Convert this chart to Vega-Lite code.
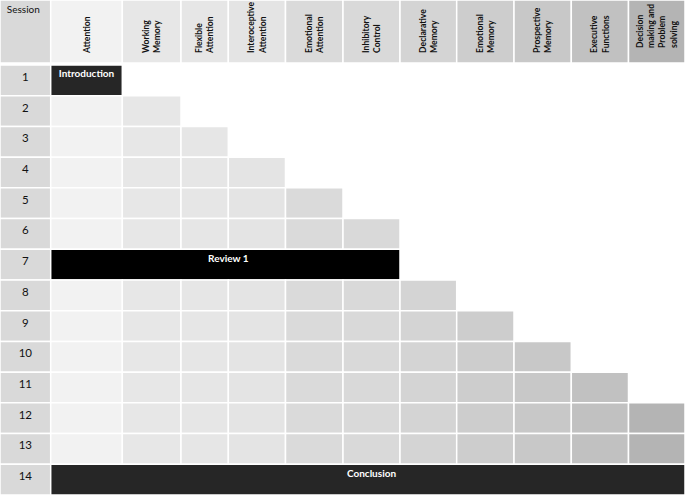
{
  "$schema": "https://vega.github.io/schema/vega-lite/v6.json",
  "padding": 0,
  "spacing": 2,
  "background": "white",
  "config": {"view": {"stroke": null}, "font": "Lato"},
  "datasets": {
    "header": [
      {"c": "S", "i0": 0, "i1": 1, "label": "Session"},
      {"c": "A", "i0": 1, "i1": 2, "label": "Attention"},
      {"c": "WM", "i0": 2, "i1": 3, "label": "Working\nMemory"},
      {"c": "FA", "i0": 3, "i1": 4, "label": "Flexible\nAttention"},
      {"c": "IA", "i0": 4, "i1": 5, "label": "Interoceptive\nAttention"},
      {"c": "EA", "i0": 5, "i1": 6, "label": "Emotional\nAttention"},
      {"c": "IC", "i0": 6, "i1": 7, "label": "Inhibitory\nControl"},
      {"c": "DM", "i0": 7, "i1": 8, "label": "Declarative\nMemory"},
      {"c": "EM", "i0": 8, "i1": 9, "label": "Emotional\nMemory"},
      {"c": "PM", "i0": 9, "i1": 10, "label": "Prospective\nMemory"},
      {"c": "EF", "i0": 10, "i1": 11, "label": "Executive\nFunctions"},
      {"c": "DP", "i0": 11, "i1": 12, "label": "Decision\nmaking and\nProblem\nsolving"}
    ],
    "cells": [
      {"s": 1, "c": "S", "i0": 0, "i1": 1}, {"s": 2, "c": "S", "i0": 0, "i1": 1}, {"s": 3, "c": "S", "i0": 0, "i1": 1}, {"s": 4, "c": "S", "i0": 0, "i1": 1}, {"s": 5, "c": "S", "i0": 0, "i1": 1}, {"s": 6, "c": "S", "i0": 0, "i1": 1}, {"s": 7, "c": "S", "i0": 0, "i1": 1}, {"s": 8, "c": "S", "i0": 0, "i1": 1}, {"s": 9, "c": "S", "i0": 0, "i1": 1}, {"s": 10, "c": "S", "i0": 0, "i1": 1}, {"s": 11, "c": "S", "i0": 0, "i1": 1}, {"s": 12, "c": "S", "i0": 0, "i1": 1}, {"s": 13, "c": "S", "i0": 0, "i1": 1}, {"s": 14, "c": "S", "i0": 0, "i1": 1},
      {"s": 1, "c": "Intro", "i0": 1, "i1": 2, "label": "Introduction"},
      {"s": 2, "c": "A", "i0": 1, "i1": 2}, {"s": 2, "c": "WM", "i0": 2, "i1": 3},
      {"s": 3, "c": "A", "i0": 1, "i1": 2}, {"s": 3, "c": "WM", "i0": 2, "i1": 3}, {"s": 3, "c": "FA", "i0": 3, "i1": 4},
      {"s": 4, "c": "A", "i0": 1, "i1": 2}, {"s": 4, "c": "WM", "i0": 2, "i1": 3}, {"s": 4, "c": "FA", "i0": 3, "i1": 4}, {"s": 4, "c": "IA", "i0": 4, "i1": 5},
      {"s": 5, "c": "A", "i0": 1, "i1": 2}, {"s": 5, "c": "WM", "i0": 2, "i1": 3}, {"s": 5, "c": "FA", "i0": 3, "i1": 4}, {"s": 5, "c": "IA", "i0": 4, "i1": 5}, {"s": 5, "c": "EA", "i0": 5, "i1": 6},
      {"s": 6, "c": "A", "i0": 1, "i1": 2}, {"s": 6, "c": "WM", "i0": 2, "i1": 3}, {"s": 6, "c": "FA", "i0": 3, "i1": 4}, {"s": 6, "c": "IA", "i0": 4, "i1": 5}, {"s": 6, "c": "EA", "i0": 5, "i1": 6}, {"s": 6, "c": "IC", "i0": 6, "i1": 7},
      {"s": 7, "c": "Rev", "i0": 1, "i1": 7, "label": "Review 1"},
      {"s": 8, "c": "A", "i0": 1, "i1": 2}, {"s": 8, "c": "WM", "i0": 2, "i1": 3}, {"s": 8, "c": "FA", "i0": 3, "i1": 4}, {"s": 8, "c": "IA", "i0": 4, "i1": 5}, {"s": 8, "c": "EA", "i0": 5, "i1": 6}, {"s": 8, "c": "IC", "i0": 6, "i1": 7}, {"s": 8, "c": "DM", "i0": 7, "i1": 8},
      {"s": 9, "c": "A", "i0": 1, "i1": 2}, {"s": 9, "c": "WM", "i0": 2, "i1": 3}, {"s": 9, "c": "FA", "i0": 3, "i1": 4}, {"s": 9, "c": "IA", "i0": 4, "i1": 5}, {"s": 9, "c": "EA", "i0": 5, "i1": 6}, {"s": 9, "c": "IC", "i0": 6, "i1": 7}, {"s": 9, "c": "DM", "i0": 7, "i1": 8}, {"s": 9, "c": "EM", "i0": 8, "i1": 9},
      {"s": 10, "c": "A", "i0": 1, "i1": 2}, {"s": 10, "c": "WM", "i0": 2, "i1": 3}, {"s": 10, "c": "FA", "i0": 3, "i1": 4}, {"s": 10, "c": "IA", "i0": 4, "i1": 5}, {"s": 10, "c": "EA", "i0": 5, "i1": 6}, {"s": 10, "c": "IC", "i0": 6, "i1": 7}, {"s": 10, "c": "DM", "i0": 7, "i1": 8}, {"s": 10, "c": "EM", "i0": 8, "i1": 9}, {"s": 10, "c": "PM", "i0": 9, "i1": 10},
      {"s": 11, "c": "A", "i0": 1, "i1": 2}, {"s": 11, "c": "WM", "i0": 2, "i1": 3}, {"s": 11, "c": "FA", "i0": 3, "i1": 4}, {"s": 11, "c": "IA", "i0": 4, "i1": 5}, {"s": 11, "c": "EA", "i0": 5, "i1": 6}, {"s": 11, "c": "IC", "i0": 6, "i1": 7}, {"s": 11, "c": "DM", "i0": 7, "i1": 8}, {"s": 11, "c": "EM", "i0": 8, "i1": 9}, {"s": 11, "c": "PM", "i0": 9, "i1": 10}, {"s": 11, "c": "EF", "i0": 10, "i1": 11},
      {"s": 12, "c": "A", "i0": 1, "i1": 2}, {"s": 12, "c": "WM", "i0": 2, "i1": 3}, {"s": 12, "c": "FA", "i0": 3, "i1": 4}, {"s": 12, "c": "IA", "i0": 4, "i1": 5}, {"s": 12, "c": "EA", "i0": 5, "i1": 6}, {"s": 12, "c": "IC", "i0": 6, "i1": 7}, {"s": 12, "c": "DM", "i0": 7, "i1": 8}, {"s": 12, "c": "EM", "i0": 8, "i1": 9}, {"s": 12, "c": "PM", "i0": 9, "i1": 10}, {"s": 12, "c": "EF", "i0": 10, "i1": 11}, {"s": 12, "c": "DP", "i0": 11, "i1": 12},
      {"s": 13, "c": "A", "i0": 1, "i1": 2}, {"s": 13, "c": "WM", "i0": 2, "i1": 3}, {"s": 13, "c": "FA", "i0": 3, "i1": 4}, {"s": 13, "c": "IA", "i0": 4, "i1": 5}, {"s": 13, "c": "EA", "i0": 5, "i1": 6}, {"s": 13, "c": "IC", "i0": 6, "i1": 7}, {"s": 13, "c": "DM", "i0": 7, "i1": 8}, {"s": 13, "c": "EM", "i0": 8, "i1": 9}, {"s": 13, "c": "PM", "i0": 9, "i1": 10}, {"s": 13, "c": "EF", "i0": 10, "i1": 11}, {"s": 13, "c": "DP", "i0": 11, "i1": 12},
      {"s": 14, "c": "Conc", "i0": 1, "i1": 12, "label": "Conclusion"}
    ]
  },
  "vconcat": [
    {
      "width": 685,
      "height": 63,
      "data": {"name": "header"},
      "layer": [
        {
          "mark": {"type": "rect", "stroke": "white", "strokeWidth": 1.5, "clip": true},
          "encoding": {
            "x": {"field": "i0", "type": "quantitative", "axis": null, "scale": {"domain": [0,1,2,3,4,5,6,7,8,9,10,11,12], "range": [0,50.7,122.3,181,228.3,285.5,343,400,456.7,514,571.3,628.5,685], "nice": false, "zero": false}},
            "x2": {"field": "i1"},
            "color": {"field": "c", "type": "nominal", "legend": null, "scale": {"domain": ["S","A","WM","FA","IA","EA","IC","DM","EM","PM","EF","DP","Intro","Rev","Conc"], "range": ["#d9d9d9","#f2f2f2","#e7e7e7","#e6e6e6","#e4e4e4","#dadada","#d9d9d9","#d4d4d4","#cdcdcd","#c8c8c8","#c1c1c1","#b4b4b4","#262626","#000000","#262626"]}}
          }
        },
        {
          "transform": [{"filter": "datum.c === 'S'"}, {"fold": ["i0", "i1"], "as": ["edge", "v"]}],
          "mark": {"type": "text", "fontSize": 10, "color": "#111111", "baseline": "middle", "align": "center", "dx": -2},
          "encoding": {
            "x": {"field": "v", "aggregate": "mean", "type": "quantitative", "axis": null, "scale": {"domain": [0,1,2,3,4,5,6,7,8,9,10,11,12], "range": [0,50.7,122.3,181,228.3,285.5,343,400,456.7,514,571.3,628.5,685], "nice": false, "zero": false}},
            "y": {"datum": "H", "type": "nominal", "axis": null, "bandPosition": 0.16, "scale": {"type": "band", "paddingInner": 0, "paddingOuter": 0}},
            "text": {"field": "label", "type": "nominal"}
          }
        },
        {
          "transform": [{"filter": "datum.c === 'A'"}, {"fold": ["i0", "i1"], "as": ["edge", "v"]}],
          "mark": {"type": "text", "fontSize": 8.6, "fontWeight": "bold", "color": "#111111", "angle": 270, "align": "left", "baseline": "middle", "lineBreak": "\n", "lineHeight": 11.5},
          "encoding": {
            "x": {"field": "v", "aggregate": "mean", "type": "quantitative", "axis": null, "scale": {"domain": [0,1,2,3,4,5,6,7,8,9,10,11,12], "range": [0,50.7,122.3,181,228.3,285.5,343,400,456.7,514,571.3,628.5,685], "nice": false, "zero": false}},
            "y": {"datum": "H", "type": "nominal", "axis": null, "bandPosition": 0.84, "scale": {"type": "band", "paddingInner": 0, "paddingOuter": 0}},
            "text": {"field": "label", "type": "nominal"}
          }
        },
        {
          "transform": [{"filter": "datum.c !== 'S' && datum.c !== 'A' && datum.c !== 'DP'"}, {"fold": ["i0", "i1"], "as": ["edge", "v"]}],
          "mark": {"type": "text", "fontSize": 8.6, "fontWeight": "bold", "color": "#111111", "angle": 270, "align": "left", "baseline": "middle", "lineBreak": "\n", "lineHeight": 11.5, "dy": -5.75},
          "encoding": {
            "x": {"field": "v", "aggregate": "mean", "type": "quantitative", "axis": null, "scale": {"domain": [0,1,2,3,4,5,6,7,8,9,10,11,12], "range": [0,50.7,122.3,181,228.3,285.5,343,400,456.7,514,571.3,628.5,685], "nice": false, "zero": false}},
            "y": {"datum": "H", "type": "nominal", "axis": null, "bandPosition": 0.84, "scale": {"type": "band", "paddingInner": 0, "paddingOuter": 0}},
            "text": {"field": "label", "type": "nominal"}
          }
        },
        {
          "transform": [{"filter": "datum.c === 'DP'"}, {"fold": ["i0", "i1"], "as": ["edge", "v"]}],
          "mark": {"type": "text", "fontSize": 8.6, "fontWeight": "bold", "color": "#111111", "angle": 270, "align": "left", "baseline": "middle", "lineBreak": "\n", "lineHeight": 11.3, "dy": -17},
          "encoding": {
            "x": {"field": "v", "aggregate": "mean", "type": "quantitative", "axis": null, "scale": {"domain": [0,1,2,3,4,5,6,7,8,9,10,11,12], "range": [0,50.7,122.3,181,228.3,285.5,343,400,456.7,514,571.3,628.5,685], "nice": false, "zero": false}},
            "y": {"datum": "H", "type": "nominal", "axis": null, "bandPosition": 0.76, "scale": {"type": "band", "paddingInner": 0, "paddingOuter": 0}},
            "text": {"field": "label", "type": "nominal"}
          }
        }
      ]
    },
    {
      "width": 685,
      "height": 430,
      "data": {"name": "cells"},
      "layer": [
        {
          "mark": {"type": "rect", "stroke": "white", "strokeWidth": 1.5, "clip": true},
          "encoding": {
            "x": {"field": "i0", "type": "quantitative", "axis": null, "scale": {"domain": [0,1,2,3,4,5,6,7,8,9,10,11,12], "range": [0,50.7,122.3,181,228.3,285.5,343,400,456.7,514,571.3,628.5,685], "nice": false, "zero": false}},
            "x2": {"field": "i1"},
            "y": {"field": "s", "type": "ordinal", "axis": null, "scale": {"type": "band", "paddingInner": 0, "paddingOuter": 0}},
            "color": {"field": "c", "type": "nominal", "legend": null, "scale": {"domain": ["S","A","WM","FA","IA","EA","IC","DM","EM","PM","EF","DP","Intro","Rev","Conc"], "range": ["#d9d9d9","#f2f2f2","#e7e7e7","#e6e6e6","#e4e4e4","#dadada","#d9d9d9","#d4d4d4","#cdcdcd","#c8c8c8","#c1c1c1","#b4b4b4","#262626","#000000","#262626"]}}
          }
        },
        {
          "transform": [{"filter": "datum.c === 'S'"}, {"fold": ["i0", "i1"], "as": ["edge", "v"]}],
          "mark": {"type": "text", "fontSize": 11.5, "color": "#111111", "baseline": "middle", "align": "center"},
          "encoding": {
            "x": {"field": "v", "aggregate": "mean", "type": "quantitative", "axis": null, "scale": {"domain": [0,1,2,3,4,5,6,7,8,9,10,11,12], "range": [0,50.7,122.3,181,228.3,285.5,343,400,456.7,514,571.3,628.5,685], "nice": false, "zero": false}},
            "y": {"field": "s", "type": "ordinal", "axis": null, "bandPosition": 0.42, "scale": {"type": "band", "paddingInner": 0, "paddingOuter": 0}},
            "text": {"field": "s", "type": "ordinal"}
          }
        },
        {
          "transform": [{"filter": "isValid(datum.label)"}, {"fold": ["i0", "i1"], "as": ["edge", "v"]}],
          "mark": {"type": "text", "fontSize": 10, "fontWeight": "bold", "color": "white", "baseline": "middle", "align": "center"},
          "encoding": {
            "x": {"field": "v", "aggregate": "mean", "type": "quantitative", "axis": null, "scale": {"domain": [0,1,2,3,4,5,6,7,8,9,10,11,12], "range": [0,50.7,122.3,181,228.3,285.5,343,400,456.7,514,571.3,628.5,685], "nice": false, "zero": false}},
            "y": {"field": "s", "type": "ordinal", "axis": null, "bandPosition": 0.3, "scale": {"type": "band", "paddingInner": 0, "paddingOuter": 0}},
            "text": {"field": "label", "type": "nominal"}
          }
        }
      ]
    }
  ]
}
